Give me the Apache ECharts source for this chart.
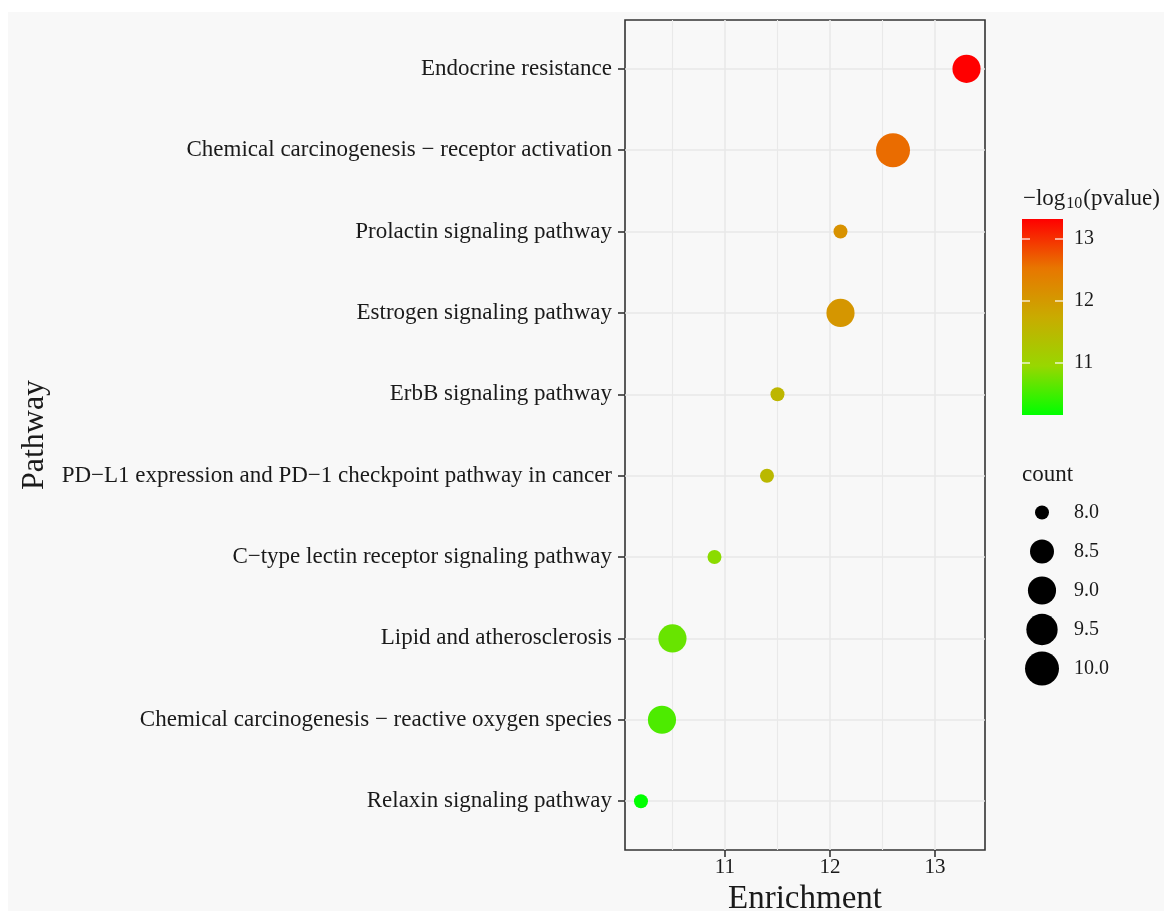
<!DOCTYPE html>
<html>
<head>
<meta charset="utf-8">
<title>Pathway enrichment</title>
<script src="https://cdn.jsdelivr.net/npm/echarts@6/dist/echarts.min.js"></script>
<style>
  html, body { margin: 0; padding: 0; background: #fff; }
  #chart { width: 1164px; height: 911px; }
</style>
</head>
<body>
<div id="chart"></div>
<script>
// pathways, top to bottom
var pathways = [
  'Endocrine resistance',
  'Chemical carcinogenesis \u2212 receptor activation',
  'Prolactin signaling pathway',
  'Estrogen signaling pathway',
  'ErbB signaling pathway',
  'PD\u2212L1 expression and PD\u22121 checkpoint pathway in cancer',
  'C\u2212type lectin receptor signaling pathway',
  'Lipid and atherosclerosis',
  'Chemical carcinogenesis \u2212 reactive oxygen species',
  'Relaxin signaling pathway'
];
var enrichment = [13.3, 12.6, 12.1, 12.1, 11.5, 11.4, 10.9, 10.5, 10.4, 10.2];
var logP = [13.32, 12.6, 12.12, 12.05, 11.55, 11.5, 10.88, 10.7, 10.56, 10.16];
var counts = [9, 10, 8, 9, 8, 8, 8, 9, 9, 8];

var xTicks = [11, 12, 13];
var xMinor = [10.5, 11.5, 12.5];
var colorTicks = [11, 12, 13];
var sizeLegend = [8, 8.5, 9, 9.5, 10];
var gradient = ['#00FF00', '#98D700', '#C9AB00', '#E87600', '#FF0000'];

var FONT = "'Liberation Serif', 'Times New Roman', serif";
var BG = '#f8f8f8';
var colorMin = Math.min.apply(null, logP);
var colorMax = Math.max.apply(null, logP);
var sizeMin = 8, sizeMax = 10;

function dotSize(c) {
  // area-like scaling, like ggplot scale_size
  return 14 + 20 * Math.sqrt((c - sizeMin) / (sizeMax - sizeMin));
}

var points = pathways.map(function (p, i) {
  return [enrichment[i], i + 1, logP[i], counts[i]];
});
var rows = pathways.map(function (p, i) { return i + 1; });

var gridLines = [];
xTicks.forEach(function (v) {
  gridLines.push({ xAxis: v, lineStyle: { width: 1.6 } });
});
xMinor.forEach(function (v) {
  gridLines.push({ xAxis: v, lineStyle: { width: 1.1 } });
});
rows.forEach(function (r) {
  gridLines.push({ yAxis: r, lineStyle: { width: 1.6 } });
});

var barStops = gradient.map(function (c, i) {
  return { offset: i / (gradient.length - 1), color: c };
});

// white tick marks on the colour bar (both edges)
function barTickAxis(offset) {
  return {
    type: 'value', gridIndex: 1, position: 'left', offset: offset,
    min: colorMin, max: colorMax,
    axisLine: { show: false },
    axisTick: { show: true, inside: true, length: 8, customValues: colorTicks,
      lineStyle: { color: 'rgba(255,255,255,0.8)', width: 1.5 } },
    axisLabel: { show: false },
    splitLine: { show: false },
    z: 5
  };
}

var chart = echarts.init(document.getElementById('chart'));
chart.setOption({
  backgroundColor: '#fff',
  animation: false,
  textStyle: { fontFamily: FONT },
  title: [
    {
      text: '{a|\u2212log}{b|10}{a|(pvalue)}',
      left: 1018, top: 181,
      textStyle: {
        rich: {
          a: { fontFamily: FONT, fontSize: 23, fontWeight: 'normal', color: '#1a1a1a' },
          b: { fontFamily: FONT, fontSize: 16, fontWeight: 'normal', color: '#1a1a1a', padding: [10, 1, 0, 1] }
        }
      }
    },
    {
      text: 'count',
      left: 1017, top: 458,
      textStyle: { fontFamily: FONT, fontSize: 23, fontWeight: 'normal', color: '#1a1a1a' }
    }
  ],
  graphic: [
    {
      type: 'rect', z: -10, silent: true,
      shape: { x: 8, y: 12, width: 1156, height: 899 },
      style: { fill: BG }
    },
    {
      type: 'rect', z: 0, silent: true,
      shape: { x: 1022, y: 219, width: 41, height: 196 },
      style: { fill: new echarts.graphic.LinearGradient(0, 1, 0, 0, barStops) }
    }
  ],
  visualMap: {
    show: false,
    type: 'continuous',
    seriesIndex: 1,
    dimension: 2,
    min: colorMin,
    max: colorMax,
    inRange: { color: gradient }
  },
  grid: [
    { left: 625, top: 20, width: 360, height: 830, show: true, backgroundColor: BG,
      borderColor: '#333', borderWidth: 1.6, outerBoundsMode: 'none' },
    { left: 1022, top: 219, width: 41, height: 196, outerBoundsMode: 'none' },
    { left: 1022, top: 493, width: 40, height: 195, outerBoundsMode: 'none' }
  ],
  xAxis: [
    {
      type: 'value', gridIndex: 0, min: 10.048, max: 13.476,
      name: 'Enrichment', nameLocation: 'middle', nameGap: 31,
      nameTextStyle: { fontFamily: FONT, fontSize: 33, color: '#1a1a1a' },
      axisLine: { show: false },
      axisTick: { show: true, length: 7, customValues: xTicks, lineStyle: { color: '#333', width: 1.6 } },
      axisLabel: { customValues: xTicks, margin: 7, fontFamily: FONT, fontSize: 21, color: '#1a1a1a' },
      splitLine: { show: false }
    },
    { type: 'value', gridIndex: 1, min: 0, max: 1, show: false },
    { type: 'value', gridIndex: 2, min: 0, max: 1, show: false }
  ],
  yAxis: [
    {
      type: 'value', gridIndex: 0, min: 0.4, max: 10.6, inverse: true,
      name: 'Pathway', nameLocation: 'middle', nameGap: 574,
      nameTextStyle: { fontFamily: FONT, fontSize: 32, color: '#1a1a1a' },
      axisLine: { show: false },
      axisTick: { show: true, length: 7, customValues: rows,
        lineStyle: { color: '#333', width: 1.6 } },
      axisLabel: {
        customValues: rows,
        formatter: function (v) { return pathways[Math.round(v) - 1] || ''; },
        margin: 13, fontFamily: FONT, fontSize: 23, color: '#1a1a1a'
      },
      splitLine: { show: false }
    },
    {
      type: 'value', gridIndex: 1, position: 'right', min: colorMin, max: colorMax,
      axisLine: { show: false },
      axisTick: { show: false },
      axisLabel: { customValues: colorTicks, margin: 11, fontFamily: FONT, fontSize: 20, color: '#1a1a1a' },
      splitLine: { show: false }
    },
    barTickAxis(0),
    {
      type: 'category', gridIndex: 2, position: 'right', inverse: true,
      data: sizeLegend.map(function (v) { return v.toFixed(1); }),
      axisLine: { show: false },
      axisTick: { show: false },
      axisLabel: { margin: 12, fontFamily: FONT, fontSize: 20, color: '#1a1a1a' },
      splitLine: { show: false }
    },
    barTickAxis(-33)
  ],
  series: [
    {
      // panel grid lines
      type: 'line', xAxisIndex: 0, yAxisIndex: 0, data: [], z: 1, silent: true,
      markLine: {
        silent: true, symbol: 'none', animation: false, z: 1,
        label: { show: false },
        lineStyle: { color: '#e9e9e9', type: 'solid' },
        data: gridLines
      }
    },
    {
      type: 'scatter', xAxisIndex: 0, yAxisIndex: 0, z: 10,
      data: points,
      symbolSize: function (d) { return dotSize(d[3]); },
      itemStyle: { opacity: 1 }
    },
    {
      type: 'scatter', xAxisIndex: 2, yAxisIndex: 3, z: 10, silent: true,
      data: sizeLegend.map(function (v) { return [0.5, v.toFixed(1), v]; }),
      symbolSize: function (d) { return dotSize(d[2]); },
      itemStyle: { color: '#000', opacity: 1 }
    }
  ]
});
</script>
</body>
</html>
